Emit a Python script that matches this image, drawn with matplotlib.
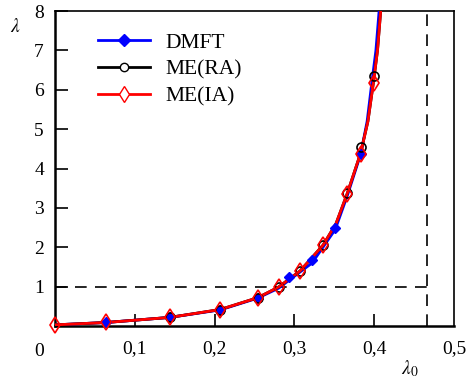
import numpy as np
import matplotlib
matplotlib.use("Agg")
import matplotlib.pyplot as plt

plt.rcParams['font.family'] = ['Liberation Serif', 'DejaVu Serif']
plt.rcParams['mathtext.fontset'] = 'stix'

# smooth curves
curve_me_x = [0.0, 0.064, 0.144, 0.207, 0.254, 0.280, 0.307, 0.336, 0.352, 0.366, 0.383, 0.392, 0.399, 0.404, 0.408]
curve_me_y = [0.03, 0.09, 0.22, 0.42, 0.72, 0.99, 1.40, 2.06, 2.60, 3.36, 4.40, 5.20, 6.20, 7.00, 8.0]
curve_dmft_x = [0.0, 0.064, 0.144, 0.207, 0.254, 0.280, 0.293, 0.322, 0.351, 0.366, 0.383, 0.391, 0.397, 0.402, 0.406]
curve_dmft_y = [0.03, 0.09, 0.22, 0.41, 0.71, 0.96, 1.16, 1.60, 2.45, 3.30, 4.37, 5.20, 6.20, 7.00, 8.0]

# markers
dmft_x = [0.064, 0.144, 0.207, 0.254, 0.293, 0.322, 0.351, 0.383]
dmft_y = [0.09, 0.22, 0.41, 0.71, 1.24, 1.68, 2.49, 4.37]
ra_x = [0.144, 0.207, 0.254, 0.281, 0.307, 0.336, 0.366, 0.383, 0.399]
ra_y = [0.23, 0.42, 0.72, 0.99, 1.40, 2.06, 3.37, 4.54, 6.35]
ia_x = [0.0, 0.064, 0.144, 0.207, 0.254, 0.280, 0.307, 0.336, 0.366, 0.383, 0.399]
ia_y = [0.03, 0.09, 0.22, 0.41, 0.72, 0.99, 1.40, 2.06, 3.35, 4.37, 6.17]

crit_x = 0.466
xticks = [0.1, 0.2, 0.3, 0.4, 0.5]
xlabels = ['0,1', '0,2', '0,3', '0,4', '0,5']
yticks = [1, 2, 3, 4, 5, 6, 7, 8]

fig = plt.figure(figsize=(4.69, 3.80), dpi=100)
ax = fig.add_axes([0.1173, 0.142, 0.851, 0.829])

# dashed guides
ax.plot([0, crit_x], [1, 1], 'k--', lw=1.2, dashes=(7, 5))
ax.plot([crit_x, crit_x], [0, 8], 'k--', lw=1.2, dashes=(7, 5))

ax.plot(curve_dmft_x, curve_dmft_y, color='blue', lw=2, zorder=3)
ax.plot(curve_me_x, curve_me_y, color='black', lw=2, zorder=3)
ax.plot(curve_me_x, curve_me_y, color='red', lw=2, zorder=4)

ax.plot(dmft_x, dmft_y, 'D', color='blue', ms=5.5, mec='blue', zorder=5,
        clip_on=False)
ax.plot(ra_x, ra_y, 'o', mfc='none', mec='black', ms=6.5, mew=1.2, zorder=6,
        clip_on=False)
ax.plot(ia_x, ia_y, 'd', mfc='none', mec='red', ms=8, mew=1.2, zorder=7,
        clip_on=False)

# legend handles
h1, = ax.plot([], [], color='blue', lw=2, marker='D', ms=6.5)
h2, = ax.plot([], [], color='black', lw=2, marker='o', mfc='white', ms=6)
h3, = ax.plot([], [], color='red', lw=2, marker='d', mfc='white', ms=8)
ax.legend([h1, h2, h3], ['DMFT', 'ME(RA)', 'ME(IA)'], loc='upper left',
          bbox_to_anchor=(0.06, 0.992), frameon=False, fontsize=15.5,
          handlelength=2.4, handletextpad=0.7, labelspacing=0.3)

ax.set_xlim(0, 0.5)
ax.set_ylim(0, 8)
ax.set_xticks(xticks)
ax.set_xticklabels(xlabels)
ax.set_yticks(yticks)
ax.set_yticklabels([str(v) for v in yticks])
ax.tick_params(direction='in', length=9, width=1.2, labelsize=14, pad=8)
ax.tick_params(axis='x', which='both', pad=10)
ax.xaxis.get_major_ticks()[-1].tick1line.set_visible(False)

for s in ['left', 'bottom']:
    ax.spines[s].set_linewidth(1.8)
for s in ['top', 'right']:
    ax.spines[s].set_linewidth(1.2)

ax.text(-0.04, -0.08, '0', transform=ax.transAxes, fontsize=14,
        ha='center', va='center')
ax.text(-0.1, 0.95, r'$\lambda$', transform=ax.transAxes, fontsize=14,
        ha='center', va='center')
ax.text(0.89, -0.135, r'$\lambda_0$', transform=ax.transAxes, fontsize=14,
        ha='center', va='center')

fig.savefig('out.png', dpi=100)
